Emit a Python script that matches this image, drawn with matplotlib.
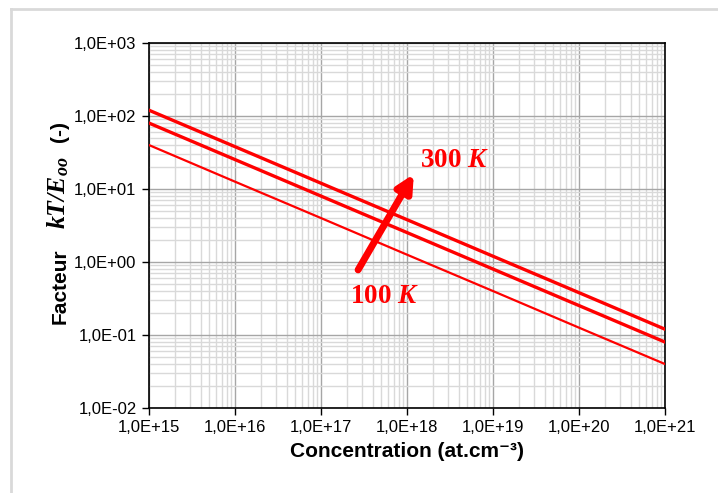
import math
import matplotlib
matplotlib.use("Agg")
import matplotlib.pyplot as plt
from matplotlib.lines import Line2D
from matplotlib.ticker import LogLocator, FixedLocator, NullFormatter, FuncFormatter

plt.rcParams['font.family'] = ['Liberation Sans', 'DejaVu Sans']
plt.rcParams['mathtext.fontset'] = 'custom'
plt.rcParams['mathtext.rm'] = 'Liberation Serif'
plt.rcParams['mathtext.it'] = 'Liberation Serif:italic'
plt.rcParams['mathtext.bf'] = 'Liberation Serif:bold'
try:
    plt.rcParams['mathtext.bfit'] = 'Liberation Serif:italic:bold'
except KeyError:
    pass

# Data (concentration in at.cm^-3)
concentration = [1e15, 1e16, 1e17, 1e18, 1e19, 1e20, 1e21]
factor_100K = [40, 12.6, 4.0, 1.26, 0.40, 0.126, 0.040]
factor_200K = [80, 25.3, 8.0, 2.53, 0.80, 0.253, 0.080]
factor_300K = [120, 38.0, 12.0, 3.80, 1.20, 0.380, 0.120]
x_ticks = [1e15, 1e16, 1e17, 1e18, 1e19, 1e20, 1e21]
y_ticks = [1e-2, 1e-1, 1e0, 1e1, 1e2, 1e3]

red = '#ff0000'

fig = plt.figure(figsize=(7.18, 4.93), dpi=100)
ax = fig.add_axes([149/718, 1 - 408/493, (665-149)/718, (408-43)/493])

ax.plot(concentration, factor_100K, color=red, lw=1.6, zorder=3)
ax.plot(concentration, factor_200K, color=red, lw=2.4, zorder=3)
ax.plot(concentration, factor_300K, color=red, lw=2.4, zorder=3)

ax.set_xscale('log')
ax.set_yscale('log')
ax.set_xlim(1e15, 1e21)
ax.set_ylim(1e-2, 1e3)

def fmt(v, pos):
    e = int(round(math.log10(v)))
    return f"1,0E{'+' if e >= 0 else '-'}{abs(e):02d}"

ax.xaxis.set_major_locator(FixedLocator(x_ticks))
ax.yaxis.set_major_locator(FixedLocator(y_ticks))
ax.xaxis.set_major_formatter(FuncFormatter(fmt))
ax.yaxis.set_major_formatter(FuncFormatter(fmt))
ax.xaxis.set_minor_locator(LogLocator(base=10, subs=range(2, 10), numticks=50))
ax.yaxis.set_minor_locator(LogLocator(base=10, subs=range(2, 10), numticks=50))
ax.xaxis.set_minor_formatter(NullFormatter())
ax.yaxis.set_minor_formatter(NullFormatter())

ax.grid(True, which='major', color='#a6a6a6', lw=1.0, zorder=0)
ax.grid(True, which='minor', color='#d9d9d9', lw=1.0, zorder=0)
ax.set_axisbelow(True)
ax.tick_params(which='major', direction='out', length=5, width=1, labelsize=12, color='black', pad=4)
ax.tick_params(which='minor', length=0)
for s in ax.spines.values():
    s.set_color('black')
    s.set_linewidth(1.2)

ax.set_xlabel('Concentration (at.cm\u207b\u00b3)', fontsize=15, fontweight='bold', labelpad=5)

# y-axis label composed of three rotated pieces
ylab_x = 60 / 718
fig.text(ylab_x, 1 - 286/493, 'Facteur', rotation=90, fontsize=15, fontweight='bold',
         ha='center', va='center')
fig.text(ylab_x - 2/718, 1 - 193/493, r'$\mathbfit{kT/E_{oo}}$', rotation=90, fontsize=18.5,
         ha='center', va='center')
fig.text(ylab_x, 1 - 131/493, '(-)', rotation=90, fontsize=15, fontweight='bold',
         ha='center', va='center')

# Arrow and temperature labels
ax.annotate('', xy=(1.2e18, 16), xytext=(2.7e17, 0.78),
            arrowprops=dict(arrowstyle='-|>,head_length=1.0,head_width=0.5', color=red, lw=5, shrinkA=0, shrinkB=0),
            zorder=4)
ax.text(1.41e18, 25, r'$\mathbf{300}\ \mathbfit{K}$', color=red, fontsize=19.5, ha='left', va='center')
ax.text(2.2e17, 0.34, r'$\mathbf{100}\ \mathbfit{K}$', color=red, fontsize=19.5, ha='left', va='center')

# light frame of the chart area
fig.add_artist(Line2D([11/718, 11/718], [0, 1 - 9/493], transform=fig.transFigure, color='#d9d9d9', lw=2))
fig.add_artist(Line2D([11/718, 1], [1 - 9/493, 1 - 9/493], transform=fig.transFigure, color='#d9d9d9', lw=2))

fig.savefig('out.png', dpi=100)
